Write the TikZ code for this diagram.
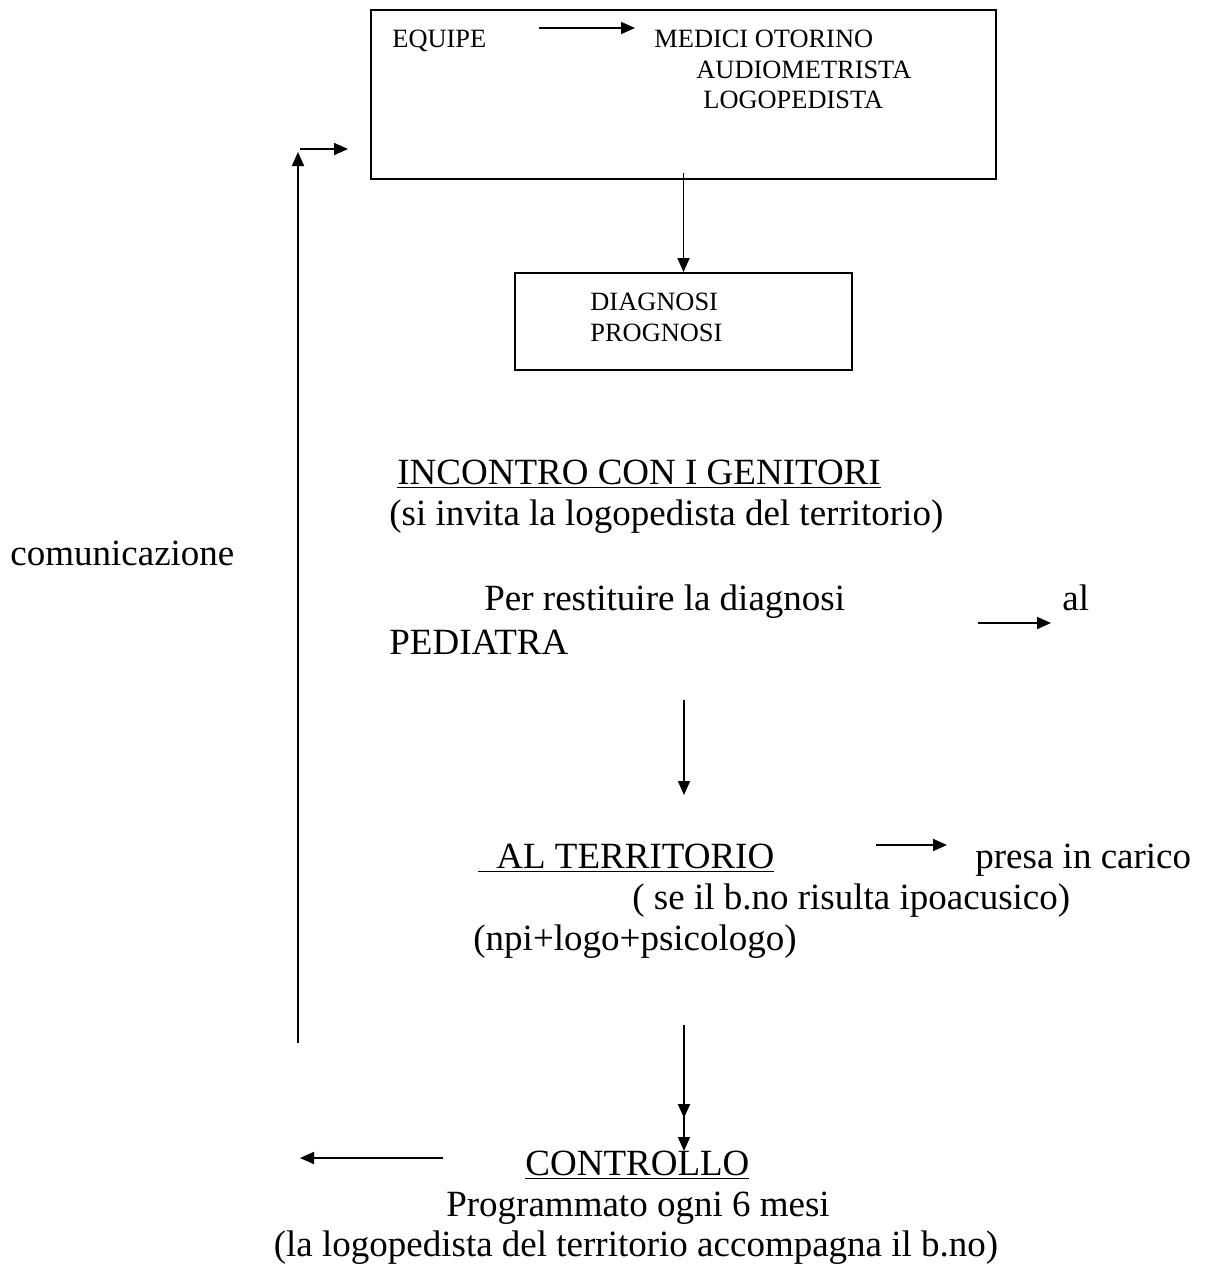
\documentclass[tikz,border=0pt]{standalone}
\usepackage{fontspec}
\setmainfont{Liberation Serif}
\usetikzlibrary{positioning,arrows.meta}
\tikzset{
  frame/.style   ={rectangle, draw=black, line width=1pt, inner sep=0pt},
  smalltxt/.style={inner sep=0pt, anchor=base west, font=\fontsize{13.2}{15}\selectfont},
  bigtxt/.style  ={inner sep=0pt, anchor=base west, font=\fontsize{18.5}{22}\selectfont},
  bigmid/.style  ={bigtxt, anchor=base},
  arr/.style     ={-{Triangle[length=7pt,width=6pt]}, line width=0.9pt},
}

\begin{document}
\begin{tikzpicture}[x=0.5pt,y=-0.5pt]
  \useasboundingbox (0,0) rectangle (1205,1270);
  % equipe box
  \node[frame, minimum width=312.5pt, minimum height=84.5pt] (equipe) at (683.5,94.5) {};
  \node[smalltxt] (eq) at (392,47) {EQUIPE};
  \node[smalltxt] (med) at (654,47) {MEDICI OTORINO};
  \node[smalltxt] (aud) at (696,78) {AUDIOMETRISTA};
  \node[smalltxt] (logo) at (703,108) {LOGOPEDISTA};
  \coordinate (eqA) at (539,28);
  \coordinate (eqB) at (635,28);
  \draw[arr] (eqA) -- (eqB);
  % diagnosis box
  \node[frame, minimum width=168.5pt, minimum height=48.5pt] (diag) at (683.5,321.5) {};
  \node[smalltxt] (dia) at (590,310) {DIAGNOSI};
  \node[smalltxt] (prog) at (590,341) {PROGNOSI};
  \draw[arr] (equipe.south) ++(0,-7) coordinate (eqS) -- (diag.north);
  % meeting with parents
  \node[bigtxt] (inc) at (397,484) {\underline{INCONTRO CON I GENITORI}};
  \node[bigtxt] (invita) at (389,525) {(si invita la logopedista del territorio)};
  \node[bigtxt] (com) at (10,565) {comunicazione};
  \node[bigtxt] (per) at (484,610) {Per restituire la diagnosi};
  \node[bigtxt] (al) at (1062,610) {al};
  \node[bigtxt] (ped) at (389,654) {PEDIATRA};
  \coordinate (alA) at (978,623);
  \coordinate (alB) at (1051,623);
  \draw[arr] (alA) -- (alB);
  \coordinate (pedS) at (684,700);
  \coordinate (terN) at (684,795);
  \draw[arr] (pedS) -- (terN);
  % territory
  \node[bigtxt] (ter) at (478,868) {\underline{\hspace{9pt}AL TERRITORIO}};
  \node[bigtxt] (presa) at (975,868) {presa in carico};
  \coordinate (terA) at (876,845);
  \coordinate (terB) at (947,845);
  \draw[arr] (terA) -- (terB);
  \node[bigtxt] (se) at (632,909) {( se il b.no risulta ipoacusico)};
  \node[bigtxt] (npi) at (473,950) {(npi+logo+psicologo)};
  % check
  \node[bigtxt] (ctrl) at (525,1175) {\underline{CONTROLLO}};
  \node[bigmid] (prgm) at (638,1216) {Programmato ogni 6 mesi};
  \node[bigmid] (acc) at (636,1256) {(la logopedista del territorio accompagna il b.no)};
  \coordinate (npiS) at (684,1025);
  \coordinate (ctrlM) at (684,1118);
  \coordinate (ctrlN) at (684,1151);
  \draw[arr] (npiS) -- (ctrlM);
  \draw[arr] (npiS) -- (ctrlN);
  % feedback loop
  \coordinate (ctrlW) at (443,1158);
  \coordinate (loopB) at (300,1158);
  \draw[arr] (ctrlW) -- (loopB);
  \coordinate (upS) at (298,1043);
  \coordinate (upN) at (298,152);
  \draw[arr] (upS) -- (upN);
  \coordinate (inA) at (300,149);
  \coordinate (inB) at (348,149);
  \draw[arr] (inA) -- (inB);
\end{tikzpicture}
\end{document}
